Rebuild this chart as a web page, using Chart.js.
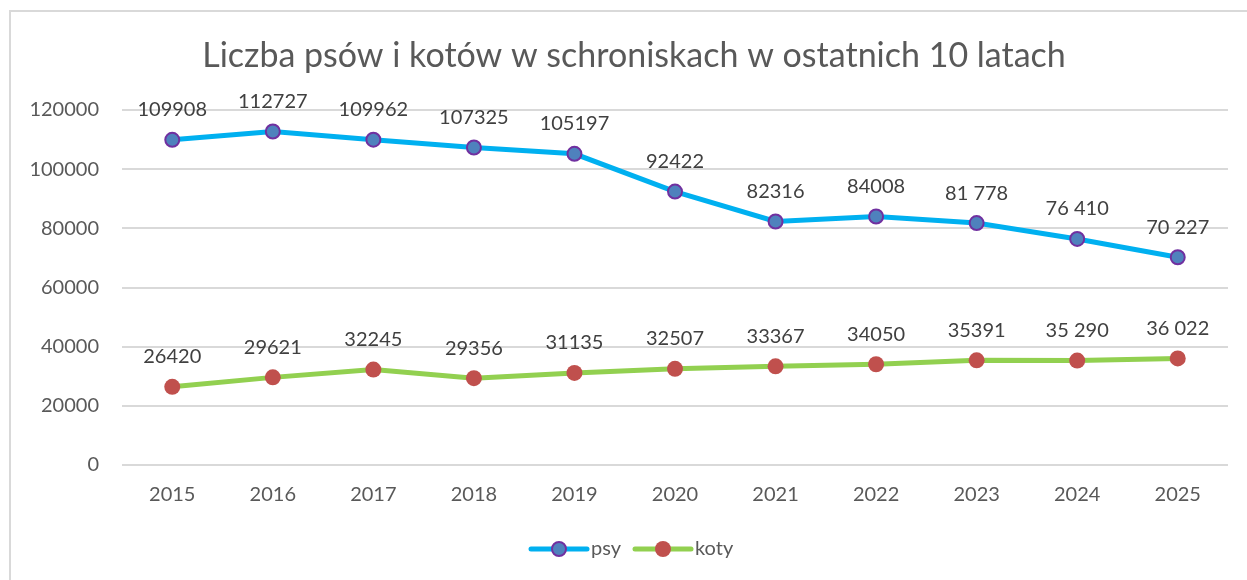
<!DOCTYPE html>
<html>
<head>
<meta charset="utf-8">
<script src="https://cdn.jsdelivr.net/npm/chart.js@4"></script>
<style>
  html, body { margin: 0; padding: 0; background: #fff; }
  #wrap { position: relative; width: 1247px; height: 580px; overflow: hidden; }
  #frame { position: absolute; left: 9px; top: 10px; width: 1300px; height: 700px; border: 2px solid #d9d9d9; box-sizing: border-box; }
  canvas { position: absolute; left: 0; top: 0; }
</style>
</head>
<body>
<div id="wrap">
  <div id="frame"></div>
  <canvas id="chartCanvas" width="1247" height="580"></canvas>
</div>
<script>
// Data
const title = 'Liczba psów i kotów w schroniskach w ostatnich 10 latach';
const years = ['2015', '2016', '2017', '2018', '2019', '2020', '2021', '2022', '2023', '2024', '2025'];
const dogs = [109908, 112727, 109962, 107325, 105197, 92422, 82316, 84008, 81778, 76410, 70227];
const dogLabels = ['109908', '112727', '109962', '107325', '105197', '92422', '82316', '84008', '81 778', '76 410', '70 227'];
const cats = [26420, 29621, 32245, 29356, 31135, 32507, 33367, 34050, 35391, 35290, 36022];
const catLabels = ['26420', '29621', '32245', '29356', '31135', '32507', '33367', '34050', '35391', '35 290', '36 022'];
const yMax = 120000;
const yStep = 20000;

const FONT = 'Lato, "Open Sans", sans-serif';
const TEXT = '#595959';

// Draw title, value labels and the legend (line + marker)
const extras = {
    id: 'extras',
    afterDatasetsDraw(chart) {
        const ctx = chart.ctx;
        ctx.save();
        ctx.fillStyle = '#404040';
        ctx.font = '20px ' + FONT;
        ctx.textAlign = 'center';
        ctx.textBaseline = 'middle';
        chart.data.datasets.forEach((ds, i) => {
            const meta = chart.getDatasetMeta(i);
            meta.data.forEach((pt, j) => {
                ctx.fillText(ds.valueLabels[j], pt.x, pt.y - 30);
            });
        });
        ctx.restore();
    },
    afterDraw(chart) {
        const ctx = chart.ctx;
        ctx.save();
        // title
        ctx.fillStyle = TEXT;
        ctx.font = '34px ' + FONT;
        ctx.textAlign = 'center';
        ctx.textBaseline = 'middle';
        ctx.fillText(title, 634, 56);

        // legend
        const y = 549;
        let x = 531;
        ctx.font = '20px ' + FONT;
        ctx.textAlign = 'left';
        chart.data.datasets.forEach(ds => {
            ctx.strokeStyle = ds.borderColor;
            ctx.lineWidth = 5;
            ctx.lineCap = 'round';
            ctx.beginPath();
            ctx.moveTo(x, y);
            ctx.lineTo(x + 56, y);
            ctx.stroke();
            ctx.beginPath();
            ctx.arc(x + 28, y, ds.pointRadius, 0, Math.PI * 2);
            ctx.fillStyle = ds.pointBackgroundColor;
            ctx.fill();
            if (ds.pointBorderWidth) {
                ctx.lineWidth = ds.pointBorderWidth;
                ctx.strokeStyle = ds.pointBorderColor;
                ctx.stroke();
            }
            ctx.fillStyle = TEXT;
            ctx.fillText(ds.label, x + 60, y);
            x += 60 + ctx.measureText(ds.label).width + 14;
        });
        ctx.restore();
    }
};

const chart = new Chart(document.getElementById('chartCanvas'), {
    type: 'line',
    data: {
        labels: years,
        datasets: [
            {
                label: 'psy',
                data: dogs,
                valueLabels: dogLabels,
                borderColor: '#00b0f0',
                borderWidth: 5,
                pointBackgroundColor: '#4f81bd',
                pointBorderColor: '#7030a0',
                pointBorderWidth: 2,
                pointRadius: 7,
                tension: 0
            },
            {
                label: 'koty',
                data: cats,
                valueLabels: catLabels,
                borderColor: '#92d050',
                borderWidth: 5,
                pointBackgroundColor: '#c0504d',
                pointBorderColor: '#c0504d',
                pointBorderWidth: 0,
                pointRadius: 8,
                tension: 0
            }
        ]
    },
    options: {
        responsive: false,
        animation: false,
        layout: { padding: { left: 10, right: 19, top: 110, bottom: 0 } },
        plugins: {
            legend: { display: false },
            title: { display: false },
            tooltip: { enabled: false }
        },
        scales: {
            x: {
                offset: true,
                grid: { display: false, drawTicks: false },
                border: { display: false },
                ticks: { color: TEXT, font: { family: FONT, size: 20 }, padding: 18 },
                afterFit: s => { s.height = 115; }
            },
            y: {
                min: 0,
                max: yMax,
                grid: { color: '#d9d9d9', lineWidth: 2, drawTicks: false },
                border: { display: false },
                ticks: {
                    stepSize: yStep,
                    color: TEXT,
                    font: { family: FONT, size: 20 },
                    padding: 23,
                    callback: v => String(v)
                },
                afterFit: s => { s.width = 112; }
            }
        }
    },
    plugins: [extras]
});
</script>
</body>
</html>
